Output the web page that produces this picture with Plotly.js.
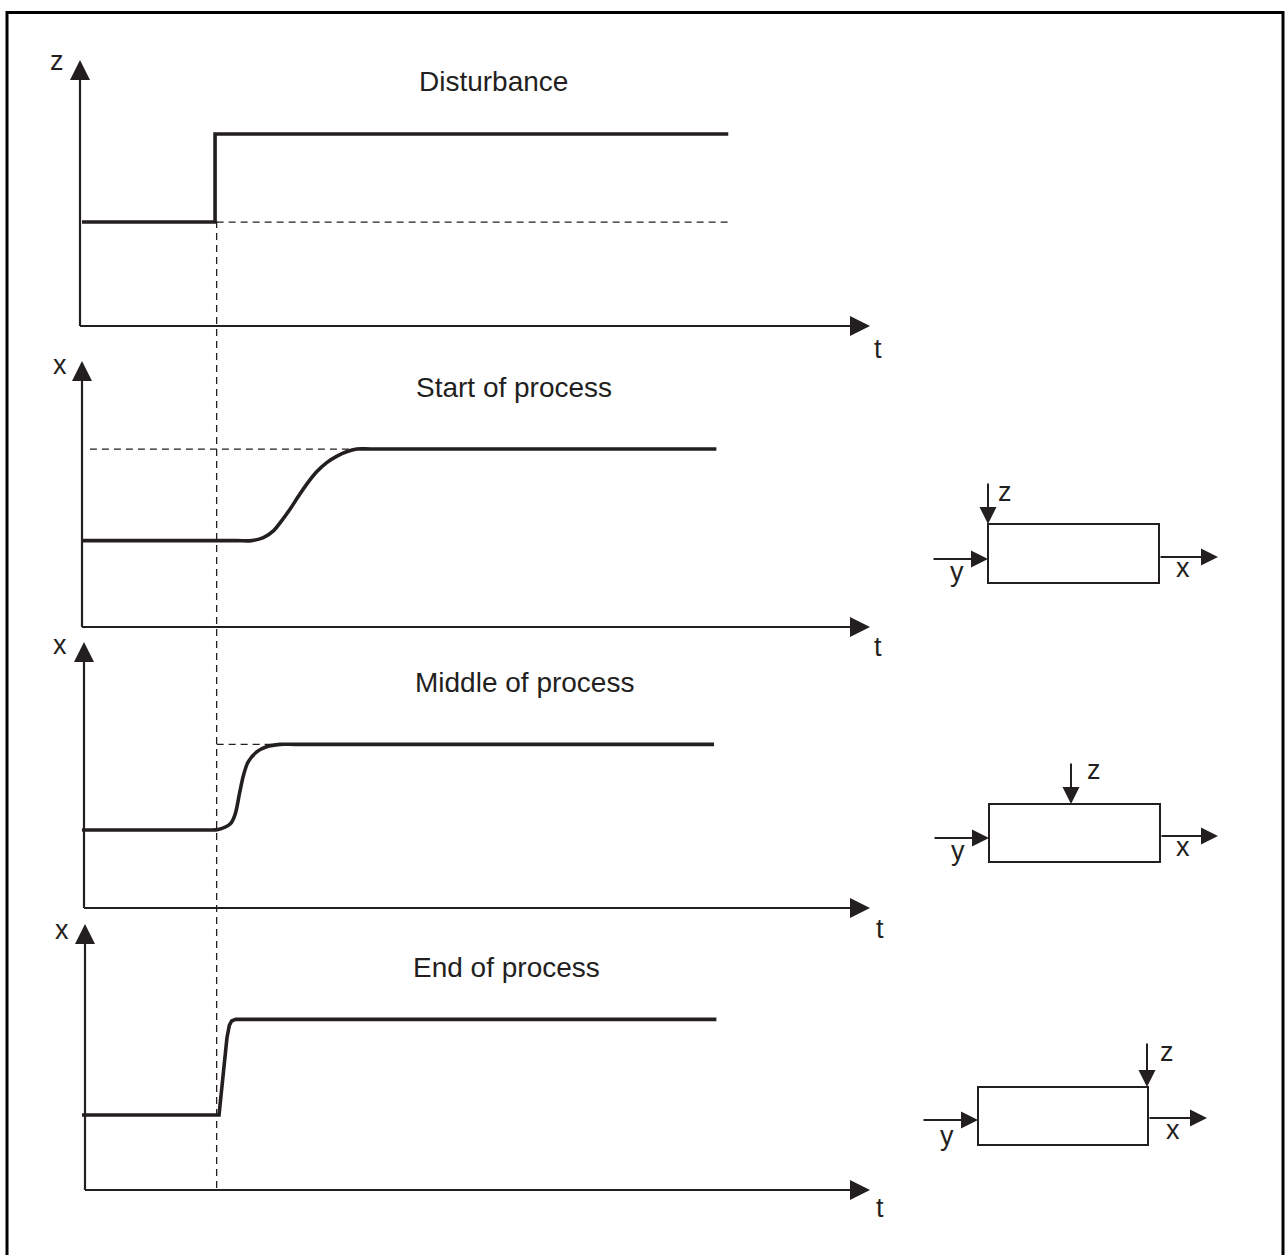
<!DOCTYPE html>
<html>
<head>
<meta charset="utf-8">
<script src="https://cdn.plot.ly/plotly-3.0.1.min.js"></script>
<style>
  html, body { margin: 0; padding: 0; background: #fff; }
  #plot { width: 1286px; height: 1255px; }
</style>
</head>
<body>
<div id="plot"></div>
<script>
document.addEventListener("DOMContentLoaded", function() {

  // panel texts
  const panelTitles = ['Disturbance', 'Start of process', 'Middle of process', 'End of process'];
  const panelYLabels = ['z', 'x', 'x', 'x'];

  // disturbance step (time, z)
  const stepT = [0, 1.68, 1.68, 8.16];
  const stepZ = [3.85, 3.85, 7.11, 7.11];
  const stepRefT = [1.70, 8.16];
  const stepRefZ = [3.85, 3.85];
  const disturbanceTime = 1.70;

  // response at start of process
  const startT = [0, 1.0, 1.95, 2.14, 2.29, 2.42, 2.52, 2.63, 2.73, 2.84, 2.96, 3.09, 3.22, 3.34, 3.47, 3.65, 5.0, 8.01];
  const startX = [3.20, 3.20, 3.20, 3.20, 3.31, 3.57, 3.93, 4.38, 4.83, 5.30, 5.74, 6.09, 6.33, 6.49, 6.59, 6.59, 6.59, 6.59];
  const startRefT = [0.10, 3.47];
  const startRefX = [6.59, 6.59];

  // response in middle of process
  const middleT = [0, 1.0, 1.58, 1.72, 1.87, 1.93, 1.99, 2.04, 2.10, 2.21, 2.33, 2.50, 2.70, 5.0, 7.98];
  const middleX = [2.89, 2.89, 2.89, 2.91, 3.11, 3.44, 4.26, 4.93, 5.42, 5.79, 5.97, 6.06, 6.06, 6.06, 6.06];
  const middleRefT = [1.70, 2.50];
  const middleRefX = [6.06, 6.06];

  // response at end of process
  const endT = [0, 1.73, 1.83, 1.86, 1.89, 1.94, 8.01];
  const endX = [2.78, 2.78, 5.63, 6.10, 6.26, 6.32, 6.32];

  const W = 1286, H = 1255;
  const px = v => v / W;
  const py = v => 1 - v / H;
  const ink = '#231f20';
  const font = "'Liberation Sans', Arial, Helvetica, sans-serif";

  const xLeft = 82, xRight = 874;
  const panelBottoms = [326, 627, 908, 1190];
  const panelHeight = 270;
  const titlePos = [[493, 82], [514, 387], [524, 682], [506, 967]];
  const yLabelPos = [[57, 61], [60, 365], [60, 645], [62, 930]];
  const tLabelPos = [[878, 349], [878, 647], [880, 929], [880, 1208]];
  const axisX = [80, 82, 84, 85];

  const sfx = i => (i === 0 ? '' : String(i + 1));

  const curves = [
    [stepT, stepZ, 'linear'],
    [startT, startX, 'spline'],
    [middleT, middleX, 'spline'],
    [endT, endX, 'linear']
  ];
  const refs = [
    [stepRefT, stepRefZ],
    [startRefT, startRefX],
    [middleRefT, middleRefX],
    null
  ];

  const data = [];
  curves.forEach(function(c, i) {
    const s = sfx(i);
    if (refs[i]) {
      data.push({
        x: refs[i][0], y: refs[i][1], xaxis: 'x' + s, yaxis: 'y' + s,
        mode: 'lines', hoverinfo: 'skip',
        line: { color: ink, width: 1.3, dash: '7px,5px' }
      });
    }
    data.push({
      x: c[0], y: c[1], xaxis: 'x' + s, yaxis: 'y' + s,
      mode: 'lines', hoverinfo: 'skip',
      line: { color: ink, width: 3.6, shape: c[2], smoothing: 1 }
    });
  });

  const layout = {
    width: W, height: H,
    margin: { l: 0, r: 0, t: 0, b: 0 },
    paper_bgcolor: '#fff', plot_bgcolor: 'rgba(0,0,0,0)',
    showlegend: false,
    shapes: [],
    annotations: []
  };

  panelBottoms.forEach(function(b, i) {
    const s = sfx(i);
    layout['xaxis' + s] = {
      domain: [px(xLeft), px(xRight)], range: [0, 10], visible: false,
      anchor: 'y' + s, fixedrange: true
    };
    layout['yaxis' + s] = {
      domain: [py(b), py(b - panelHeight)], range: [0, 10], visible: false,
      anchor: 'x' + s, fixedrange: true
    };

    // axis lines
    layout.shapes.push({
      type: 'line', xref: 'paper', yref: 'paper',
      x0: px(axisX[i]), x1: px(xRight - 8), y0: py(b), y1: py(b),
      line: { color: ink, width: 2.2 }
    });
    layout.shapes.push({
      type: 'line', xref: 'paper', yref: 'paper',
      x0: px(axisX[i]), x1: px(axisX[i]), y0: py(b), y1: py(b - panelHeight + 8),
      line: { color: ink, width: 2.2 }
    });
    // arrow heads
    layout.annotations.push({
      xref: 'paper', yref: 'paper', x: px(xRight - 4), y: py(b),
      ax: -26, ay: 0, text: '', showarrow: true,
      arrowhead: 2, arrowsize: 2, arrowwidth: 2, arrowcolor: ink
    });
    layout.annotations.push({
      xref: 'paper', yref: 'paper', x: px(axisX[i]), y: py(b - panelHeight + 4),
      ax: 0, ay: 26, text: '', showarrow: true,
      arrowhead: 2, arrowsize: 2, arrowwidth: 2, arrowcolor: ink
    });

    // texts
    layout.annotations.push({
      xref: 'paper', yref: 'paper', x: px(titlePos[i][0]), y: py(titlePos[i][1]),
      xanchor: 'center', yanchor: 'middle', showarrow: false,
      text: panelTitles[i], font: { family: font, size: 28, color: ink }
    });
    layout.annotations.push({
      xref: 'paper', yref: 'paper', x: px(yLabelPos[i][0]), y: py(yLabelPos[i][1]),
      xanchor: 'center', yanchor: 'middle', showarrow: false,
      text: panelYLabels[i], font: { family: font, size: 27, color: ink }
    });
    layout.annotations.push({
      xref: 'paper', yref: 'paper', x: px(tLabelPos[i][0]), y: py(tLabelPos[i][1]),
      xanchor: 'center', yanchor: 'middle', showarrow: false,
      text: 't', font: { family: font, size: 27, color: ink }
    });
  });

  // vertical dashed line at the disturbance time through all panels
  layout.shapes.push({
    type: 'line', xref: 'x', yref: 'paper',
    x0: disturbanceTime, x1: disturbanceTime, y0: py(221), y1: py(1190),
    line: { color: ink, width: 1.3, dash: '7px,5px' }
  });

  // block diagrams: where the disturbance z enters the process
  const blocks = [
    { rect: [988, 524, 1159, 583], zx: 988, zTop: 482, zLabel: [1005, 492], inY: 559, inX0: 932, yLabel: [957, 572], outY: 557, outX1: 1218, xLabel: [1183, 568] },
    { rect: [989, 804, 1160, 862], zx: 1071, zTop: 762, zLabel: [1094, 770], inY: 838, inX0: 933, yLabel: [958, 851], outY: 836, outX1: 1218, xLabel: [1183, 847] },
    { rect: [978, 1087, 1148, 1145], zx: 1147, zTop: 1042, zLabel: [1167, 1052], inY: 1120, inX0: 922, yLabel: [947, 1136], outY: 1118, outX1: 1207, xLabel: [1173, 1130] }
  ];

  const arrow = function(tipX, tipY, ax, ay) {
    return {
      xref: 'paper', yref: 'paper', x: px(tipX), y: py(tipY), ax: ax, ay: ay,
      text: '', showarrow: true, arrowhead: 2, arrowsize: 1.7, arrowwidth: 2,
      arrowcolor: ink, standoff: 0
    };
  };
  const label = function(p, t) {
    return {
      xref: 'paper', yref: 'paper', x: px(p[0]), y: py(p[1]),
      xanchor: 'center', yanchor: 'middle', showarrow: false,
      text: t, font: { family: font, size: 27, color: ink }
    };
  };

  blocks.forEach(function(b) {
    layout.shapes.push({
      type: 'rect', xref: 'paper', yref: 'paper',
      x0: px(b.rect[0]), x1: px(b.rect[2]), y0: py(b.rect[1]), y1: py(b.rect[3]),
      line: { color: ink, width: 2 }
    });
    layout.annotations.push(arrow(b.zx, b.rect[1], 0, -(b.rect[1] - b.zTop)));
    layout.annotations.push(arrow(b.rect[0], b.inY, -(b.rect[0] - b.inX0), 0));
    layout.annotations.push(arrow(b.outX1, b.outY, -(b.outX1 - b.rect[2]), 0));
    layout.annotations.push(label(b.zLabel, 'z'));
    layout.annotations.push(label(b.yLabel, 'y'));
    layout.annotations.push(label(b.xLabel, 'x'));
  });

  // frame round the figure
  layout.shapes.push({
    type: 'rect', xref: 'paper', yref: 'paper',
    x0: px(7), x1: px(1283), y0: py(12.5), y1: py(1275),
    line: { color: '#000', width: 3 }
  });

  Plotly.newPlot('plot', data, layout, { displayModeBar: false, staticPlot: true });
});
</script>
</body>
</html>
